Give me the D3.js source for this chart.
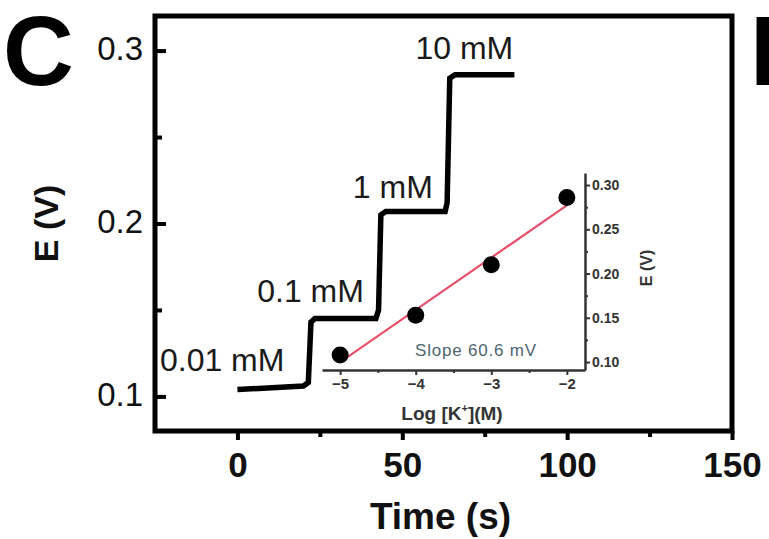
<!DOCTYPE html>
<html><head><meta charset="utf-8">
<script src="https://cdn.jsdelivr.net/npm/d3@7"></script>
<style>
body{margin:0;background:#fff;}
svg{display:block;font-family:"Liberation Sans",Arial,sans-serif;}
</style></head>
<body><svg id="c" width="769" height="539"></svg>
<script>
// ---- data ----
const stepTime = [0, 20, 21.5, 22.3, 23.5, 42, 42.8, 43.5, 45, 63, 63.6, 64.4, 66, 84];
const stepE    = [0.104, 0.106, 0.108, 0.143, 0.145, 0.145, 0.150, 0.205, 0.207, 0.207, 0.212, 0.284, 0.286, 0.286];
const concLabels = ["0.01 mM", "0.1 mM", "1 mM", "10 mM"];
const xTicks = [0, 50, 100, 150];
const yTicks = [0.1, 0.2, 0.3];
const insetLogK = [-5, -4, -3, -2];
const insetE = [0.108, 0.153, 0.210, 0.286];
const fitLogK = [-5, -2];
const fitE = [0.100, 0.277];
const insetYTicks = [0.10, 0.15, 0.20, 0.25, 0.30];
const slopeText = "Slope 60.6 mV";

const svg = d3.select("#c");
const W = 769, H = 539;
const m = {l:155, r:37, t:16, b:108};
const x = d3.scaleLinear().domain([-25,150]).range([m.l, W-m.r]);
const y = d3.scaleLinear().domain([0.08,0.32]).range([H-m.b, m.t]);

// panel letters
svg.append("text").attr("x",3).attr("y",85).attr("font-size",98).attr("font-weight","bold").attr("fill","#000").text("C");
svg.append("text").attr("x",750).attr("y",85).attr("font-size",98).attr("font-weight","bold").attr("fill","#000").text("D");

// frame
svg.append("rect").attr("x",m.l).attr("y",m.t).attr("width",W-m.r-m.l).attr("height",H-m.b-m.t)
  .attr("fill","none").attr("stroke","#000").attr("stroke-width",5);

// x axis ticks
const xa = svg.append("g").attr("transform",`translate(0,${H-m.b})`)
  .call(d3.axisBottom(x).tickValues(xTicks).tickSize(9).tickPadding(12).tickFormat(d3.format("d")));
xa.select(".domain").remove();
xa.selectAll(".tick line").attr("stroke","#000").attr("stroke-width",4);
xa.selectAll(".tick text").attr("font-size",35).attr("font-weight","bold").attr("fill","#111").attr("font-family","Liberation Sans, Arial, sans-serif");
const xm = svg.append("g").attr("transform",`translate(0,${H-m.b})`)
  .call(d3.axisBottom(x).tickValues([25,75,125]).tickSize(6).tickFormat(""));
xm.select(".domain").remove();
xm.selectAll(".tick line").attr("stroke","#000").attr("stroke-width",4);

// y axis ticks (inward)
const ya = svg.append("g").attr("transform",`translate(${m.l},0)`)
  .call(d3.axisLeft(y).tickValues(yTicks).tickSize(-11).tickPadding(12).tickFormat(d3.format(".1f")));
ya.select(".domain").remove();
ya.selectAll(".tick line").attr("stroke","#000").attr("stroke-width",4);
ya.selectAll(".tick text").attr("font-size",33).attr("fill","#111").attr("dy","0.28em").attr("font-family","Liberation Sans, Arial, sans-serif");
const ym = svg.append("g").attr("transform",`translate(${m.l},0)`)
  .call(d3.axisLeft(y).tickValues([0.15,0.25]).tickSize(-7).tickFormat(""));
ym.select(".domain").remove();
ym.selectAll(".tick line").attr("stroke","#000").attr("stroke-width",4);

// axis titles
svg.append("text").attr("x",(m.l+W-m.r)/2 - 3).attr("y",529).attr("text-anchor","middle")
  .attr("font-size",37).attr("font-weight","bold").attr("fill","#111").text("Time (s)");
svg.append("text").attr("transform",`translate(58,${(m.t+H-m.b)/2}) rotate(-90)`).attr("text-anchor","middle")
  .attr("font-size",34).attr("font-weight","bold").attr("fill","#111").text("E (V)");

// step line
const pts = stepTime.map((t,i)=>[t, stepE[i]]);
svg.append("path").datum(pts)
  .attr("d", d3.line().x(d=>x(d[0])).y(d=>y(d[1])))
  .attr("fill","none").attr("stroke","#000").attr("stroke-width",5.5).attr("stroke-linejoin","miter");

// concentration labels
const labelPos = [[-23.5,0.1145],[6,0.1545],[35,0.215],[54,0.295]];
concLabels.forEach((s,i)=>{
  svg.append("text").attr("x",x(labelPos[i][0])).attr("y",y(labelPos[i][1]))
    .attr("font-size",32).attr("fill","#1a1a1a").text(s);
});

// ---- inset ----
const ix = d3.scaleLinear().domain([-5.24,-1.76]).range([322,585]);
const iy = d3.scaleLinear().domain([0.091,0.3136]).range([370,173]);
const ins = svg.append("g");
const ixa = ins.append("g").attr("transform","translate(0,370)")
  .call(d3.axisBottom(ix).tickValues(insetLogK).tickSize(5).tickPadding(3).tickSizeOuter(0).tickFormat(d3.format("d")));
ixa.select(".domain").attr("stroke","#333").attr("stroke-width",2.5);
ixa.selectAll(".tick line").attr("stroke","#333").attr("stroke-width",2);
ixa.selectAll(".tick text").attr("font-size",15).attr("font-weight","bold").attr("fill","#333").attr("font-family","Liberation Sans, Arial, sans-serif");
const ixm = ins.append("g").attr("transform","translate(0,370)")
  .call(d3.axisBottom(ix).tickValues([-4.5,-3.5,-2.5]).tickSize(3).tickFormat(""));
ixm.select(".domain").remove();
ixm.selectAll(".tick line").attr("stroke","#333").attr("stroke-width",2);

const iya = ins.append("g").attr("transform","translate(585,0)")
  .call(d3.axisRight(iy).tickValues(insetYTicks).tickSize(5).tickPadding(2).tickSizeOuter(0).tickFormat(d3.format(".2f")));
iya.select(".domain").attr("stroke","#333").attr("stroke-width",2.5);
iya.selectAll(".tick line").attr("stroke","#333").attr("stroke-width",2);
iya.selectAll(".tick text").attr("font-size",14).attr("font-weight","bold").attr("fill","#333").attr("font-family","Liberation Sans, Arial, sans-serif");
const iym = ins.append("g").attr("transform","translate(585,0)")
  .call(d3.axisRight(iy).tickValues([0.125,0.175,0.225,0.275]).tickSize(3).tickFormat(""));
iym.select(".domain").remove();
iym.selectAll(".tick line").attr("stroke","#333").attr("stroke-width",2);

// fit line
ins.append("line").attr("x1",ix(fitLogK[0])).attr("y1",iy(fitE[0])).attr("x2",ix(fitLogK[1])).attr("y2",iy(fitE[1]))
  .attr("stroke","#e8506a").attr("stroke-width",2.2);
// points
ins.selectAll("circle.p").data(insetLogK.map((k,i)=>[k,insetE[i]])).enter().append("circle")
  .attr("cx",d=>ix(d[0])).attr("cy",d=>iy(d[1])).attr("r",8.5).attr("fill","#000");

// inset labels
const lt = ins.append("text").attr("x",452).attr("y",420).attr("text-anchor","middle")
  .attr("font-size",19).attr("font-weight","bold").attr("fill","#333");
lt.append("tspan").text("Log [K");
lt.append("tspan").attr("font-size",11).attr("dy",-8).text("+");
lt.append("tspan").attr("dy",8).text("](M)");
ins.append("text").attr("transform","translate(652,268) rotate(-90)").attr("text-anchor","middle")
  .attr("font-size",16).attr("font-weight","bold").attr("fill","#333").text("E (V)");
ins.append("text").attr("x",415).attr("y",356).attr("font-size",17).attr("fill","#4d6670")
  .attr("letter-spacing",0.8).text(slopeText);
</script></body></html>
